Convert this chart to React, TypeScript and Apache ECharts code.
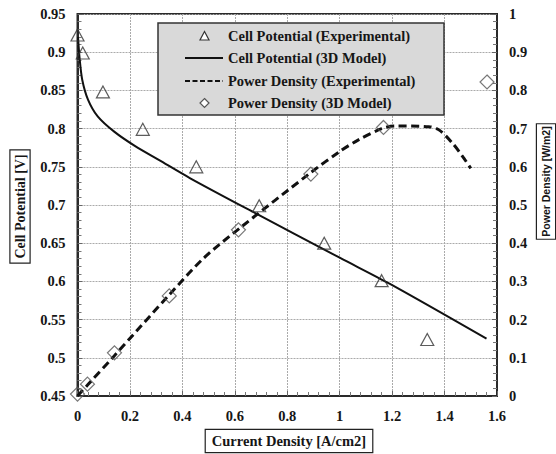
import React, { useEffect, useRef } from "react";
import * as echarts from "echarts";

// Cell potential, experimental (triangles)
const cellExpX = [0.0, 0.02, 0.097, 0.249, 0.453, 0.693, 0.941, 1.16, 1.334];
const cellExpV = [0.9225, 0.899, 0.848, 0.799, 0.75, 0.699, 0.65, 0.601, 0.524];
// Cell potential, 3D model (solid line)
const cellModelX = [0.002, 0.008, 0.018, 0.04, 0.077, 0.14, 0.22, 0.31, 0.43, 0.68, 1.0, 1.19, 1.56];
const cellModelV = [0.92, 0.892, 0.864, 0.838, 0.816, 0.796, 0.777, 0.759, 0.735, 0.689, 0.631, 0.597, 0.525];
// Power density, experimental (dashed line)
const powerExpX = [0.0, 0.04, 0.14, 0.35, 0.48, 0.62, 0.89, 1.0, 1.07, 1.16, 1.21, 1.34, 1.38, 1.43, 1.47, 1.5];
const powerExpP = [0.0, 0.03, 0.105, 0.265, 0.36, 0.44, 0.585, 0.64, 0.67, 0.7, 0.707, 0.705, 0.696, 0.662, 0.626, 0.596];
// Power density, 3D model (diamonds)
const powerModelX = [0.0, 0.038, 0.141, 0.35, 0.614, 0.89, 1.167, 1.562];
const powerModelP = [0.005, 0.031, 0.113, 0.262, 0.435, 0.581, 0.703, 0.822];

const legendLabels = [
  "Cell Potential (Experimental)",
  "Cell Potential (3D Model)",
  "Power Density (Experimental)",
  "Power Density (3D Model)",
];
const xTitle = "Current Density [A/cm2]";
const yLeftTitle = "Cell Potential [V]";
const yRightTitle = "Power Density [W/m2]";

const xMin = 0, xMax = 1.6, xStep = 0.2;
const yLMin = 0.45, yLMax = 0.95, yLStep = 0.05;
const yRMin = 0, yRMax = 1, yRStep = 0.1;

const zip = (a: number[], b: number[]) => a.map((v, i) => [v, b[i]]);

const SERIF = "'Liberation Serif', 'Times New Roman', serif";
const NARROW = "'Liberation Sans Narrow', 'Arial Narrow', 'Liberation Sans', Arial, sans-serif";
const TXT = "#161616";

export default function App() {
  const ref = useRef<HTMLDivElement>(null);
  useEffect(() => {
    if (!ref.current) return;
    const chart = echarts.init(ref.current, null, { renderer: "svg" });
    const labelStyle = {
      fontFamily: SERIF,
      fontWeight: "bold" as const,
      fontSize: 14.5,
      color: TXT,
    };
    const tick = { show: true, inside: true, length: 5, lineStyle: { color: "#666", width: 1 } };
    const minor = { show: true, splitNumber: 5, length: 4, lineStyle: { color: "#777", width: 1 } };
    const split = { show: true, lineStyle: { color: "#aaaaaa", type: [2, 1], width: 1 } };
    const legendRows = [36, 58, 81, 103];
    const legX = 228;
    const symX = 204.5;
    chart.setOption({
      animation: false,
      backgroundColor: "#ffffff",
      grid: {
        left: 77.5,
        right: 59,
        top: 14,
        bottom: 58,
        show: true,
        borderColor: "#2a2a2a",
        borderWidth: 2,
        backgroundColor: "transparent",
      },
      xAxis: {
        type: "value",
        min: xMin,
        max: xMax,
        interval: xStep,
        axisLine: { show: true, lineStyle: { color: "#2a2a2a", width: 2 } },
        axisTick: tick,
        minorTick: minor,
        axisLabel: { ...labelStyle, margin: 12 },
        splitLine: split,
      },
      yAxis: [
        {
          type: "value",
          min: yLMin,
          max: yLMax,
          interval: yLStep,
          axisLine: { show: true, lineStyle: { color: "#2a2a2a", width: 2 } },
          axisTick: tick,
          minorTick: minor,
          axisLabel: { ...labelStyle, margin: 12 },
          splitLine: split,
        },
        {
          type: "value",
          position: "right",
          min: yRMin,
          max: yRMax,
          interval: yRStep,
          axisLine: { show: true, lineStyle: { color: "#2a2a2a", width: 2 } },
          axisTick: tick,
          minorTick: minor,
          axisLabel: { ...labelStyle, margin: 12 },
          splitLine: { show: false },
        },
      ],
      series: [
        {
          name: legendLabels[0],
          type: "scatter",
          yAxisIndex: 0,
          symbol: "triangle",
          symbolSize: [13, 12],
          itemStyle: { color: "transparent", borderColor: "#333", borderWidth: 1.2 },
          data: zip(cellExpX, cellExpV),
          z: 4,
        },
        {
          name: legendLabels[1],
          type: "line",
          yAxisIndex: 0,
          showSymbol: false,
          symbol: "none",
          smooth: 0.3,
          lineStyle: { color: "#111", width: 2 },
          data: zip(cellModelX, cellModelV),
          z: 3,
        },
        {
          name: legendLabels[2],
          type: "line",
          yAxisIndex: 1,
          showSymbol: false,
          symbol: "none",
          smooth: 0.3,
          lineStyle: { color: "#111", width: 3, type: [8, 4.5] },
          data: zip(powerExpX, powerExpP),
          z: 3,
        },
        {
          name: legendLabels[3],
          type: "scatter",
          yAxisIndex: 1,
          symbol: "diamond",
          symbolSize: 14,
          itemStyle: { color: "transparent", borderColor: "#555", borderWidth: 1.2 },
          data: zip(powerModelX, powerModelP),
          z: 4,
        },
      ],
      graphic: [
        {
          type: "rect",
          z: 10,
          shape: { x: 158, y: 23, width: 286, height: 92 },
          style: { fill: "#d9d9d9", stroke: "#333", lineWidth: 1.5 },
        },
        {
          type: "polygon",
          z: 11,
          shape: { points: [[symX, legendRows[0] - 4.5], [symX - 4.5, legendRows[0] + 4], [symX + 4.5, legendRows[0] + 4]] },
          style: { fill: "#fff", stroke: "#333", lineWidth: 1.2 },
        },
        {
          type: "line",
          z: 11,
          shape: { x1: 185, y1: legendRows[1], x2: 223, y2: legendRows[1] },
          style: { stroke: "#111", lineWidth: 2 },
        },
        {
          type: "line",
          z: 11,
          shape: { x1: 185, y1: legendRows[2], x2: 223, y2: legendRows[2] },
          style: { stroke: "#111", lineWidth: 2, lineDash: [5, 2.5] },
        },
        {
          type: "polygon",
          z: 11,
          shape: { points: [[symX, legendRows[3] - 4.5], [symX + 4.5, legendRows[3]], [symX, legendRows[3] + 4.5], [symX - 4.5, legendRows[3]]] },
          style: { fill: "#fff", stroke: "#555", lineWidth: 1.2 },
        },
        ...legendLabels.map((t, i) => ({
          type: "text",
          z: 11,
          x: legX,
          y: legendRows[i],
          style: {
            text: t,
            font: `bold 14.5px ${SERIF}`,
            fill: TXT,
            align: "left",
            verticalAlign: "middle",
          },
        })),
        {
          type: "text",
          z: 11,
          x: 289,
          y: 441,
          style: {
            text: xTitle,
            font: `bold 14.5px ${SERIF}`,
            fill: TXT,
            align: "center",
            verticalAlign: "middle",
            backgroundColor: "#fff",
            borderColor: "#222",
            borderWidth: 1.2,
            padding: [4, 6, 3, 6],
          },
        },
        {
          type: "text",
          z: 11,
          x: 20,
          y: 206.5,
          rotation: Math.PI / 2,
          style: {
            text: yLeftTitle,
            font: `bold 14px ${SERIF}`,
            fill: TXT,
            align: "center",
            verticalAlign: "middle",
            backgroundColor: "#fff",
            borderColor: "#222",
            borderWidth: 1.2,
            padding: [3, 4, 2, 4],
          },
        },
        {
          type: "text",
          z: 11,
          x: 546,
          y: 181.5,
          rotation: Math.PI / 2,
          style: {
            text: yRightTitle,
            font: `bold 10.5px ${NARROW}`,
            fill: TXT,
            align: "center",
            verticalAlign: "middle",
            backgroundColor: "#fff",
            borderColor: "#222",
            borderWidth: 1.2,
            padding: [4, 2, 3, 2],
          },
        },
      ],
    });
    return () => chart.dispose();
  }, []);
  return <div ref={ref} style={{ width: 556, height: 454, position: "absolute", left: 0, top: 0 }} />;
}
